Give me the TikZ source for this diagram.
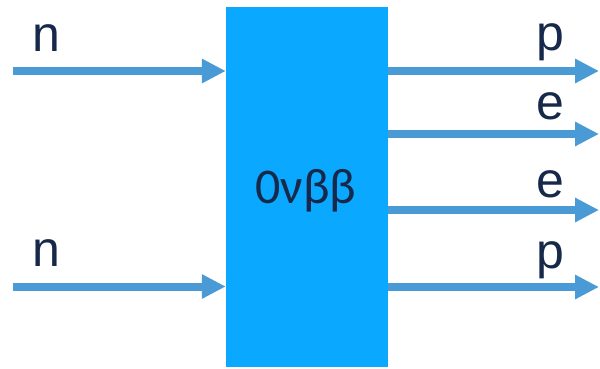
\documentclass[tikz,border=0pt]{standalone}
\usepackage{fontspec}
\setmainfont{Liberation Sans}
\newfontfamily\decayfont[Numbers=Lining]{Carlito}
\usetikzlibrary{arrows.meta, positioning, calc}
\definecolor{decayBlue}{HTML}{0AA8FF}
\definecolor{lineBlue}{HTML}{4A9BD5}
\definecolor{inkNavy}{HTML}{17294A}

\begin{document}
\begin{tikzpicture}[x=1pt, y=-1pt,
  blk/.style={rectangle, draw=none, fill=decayBlue,
              minimum width=162pt, minimum height=360pt,
              inner sep=0pt},
  prt/.style={anchor=base, text=inkNavy, inner sep=0pt,
              font=\fontsize{50}{50}\selectfont},
  flow/.style={draw=lineBlue, line width=8pt,
               -{Triangle[length=24pt, width=23pt]}}
]
  \useasboundingbox (0,0) rectangle (600,369);

  %% Decay block
  \node[blk] (decay) at (307,187) {};
  \node[anchor=base, text=inkNavy, inner sep=0pt,
        font=\decayfont\fontsize{50}{50}\selectfont]
    (decaytxt) at (306,203) {0νββ};

  %% Incoming neutrons
  \coordinate (nin1) at (13,71);
  \coordinate (nin2) at (13,286.5);
  \node[prt] (n1) at (46,52)  {n};
  \node[prt] (n2) at (46,266) {n};
  \draw[flow] (nin1) -- (decay.west |- nin1);
  \draw[flow] (nin2) -- (decay.west |- nin2);

  %% Outgoing particles
  \coordinate (out1) at (599,71);
  \coordinate (out2) at (599,134);
  \coordinate (out3) at (599,210);
  \coordinate (out4) at (599,287);
  \node[prt] (p1) at (550,51)  {p};
  \node[prt] (e1) at (550,120) {e};
  \node[prt] (e2) at (550,197) {e};
  \node[prt] (p2) at (550,268) {p};
  \foreach \o in {out1,out2,out3,out4}
    \draw[flow] (decay.east |- \o) -- (\o);

\end{tikzpicture}
\end{document}
